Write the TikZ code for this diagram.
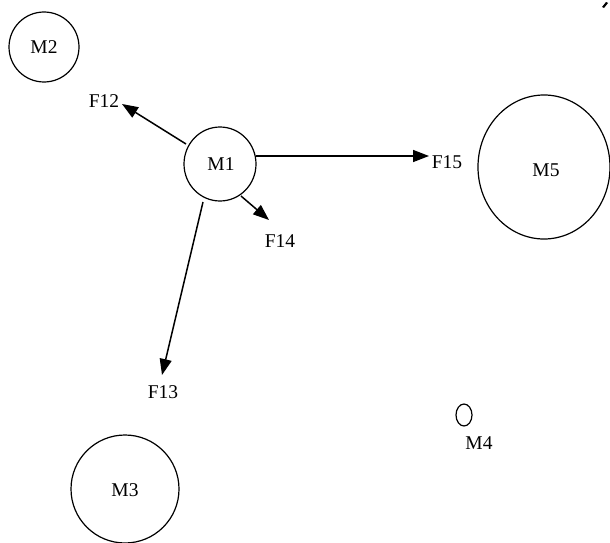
\documentclass[tikz,border=0pt]{standalone}
\usepackage{fontspec}
\setmainfont{Liberation Serif}
\usetikzlibrary{arrows.meta}
\begin{document}
\begin{tikzpicture}[x=1pt,y=-1pt,
  lbl/.style={font=\fontsize{19.5}{22}\selectfont,inner sep=0pt},
  massline/.style={line width=1.2pt},
  force/.style={line width=1.5pt,-{Triangle[length=16pt,width=12pt]}}]
\useasboundingbox (0,0) rectangle (610,543);
\fill[white] (0,0) rectangle (610,543);
% masses
\draw[massline] (44,47) ellipse [x radius=35, y radius=35];
\node[lbl] (m2) at (44,47) {M2};
\draw[massline] (220,164) ellipse [x radius=36, y radius=37];
\node[lbl] (m1) at (221,164) {M1};
\draw[massline] (544,167) ellipse [x radius=66, y radius=72];
\node[lbl] (m5) at (546,170) {M5};
\draw[massline] (125,489) ellipse [x radius=54, y radius=54];
\node[lbl] (m3) at (125,490) {M3};
\draw[massline] (464,415) ellipse [x radius=8, y radius=11];
\node[lbl] (m4) at (479,443) {M4};
% force labels and arrow ends
\node[lbl] (f12) at (104,101) {F12};
\node[lbl] (f15) at (447,162) {F15};
\node[lbl] (f14) at (280,241) {F14};
\node[lbl] (f13) at (163,392) {F13};
\coordinate (s12) at (186,144);
\coordinate (e12) at (122,104);
\coordinate (s15) at (256,156);
\coordinate (e15) at (429,156);
\coordinate (s14) at (241,196);
\coordinate (e14) at (269,220);
\coordinate (s13) at (203,202);
\coordinate (e13) at (162,375);
\draw[force] (s12) -- (e12);
\draw[force] (s15) -- (e15);
\draw[force] (s14) -- (e14);
\draw[force] (s13) -- (e13);
% corner mark
\fill (602,7) -- (606,2) -- (608,3) -- (604,8) -- cycle;
\end{tikzpicture}
\end{document}
